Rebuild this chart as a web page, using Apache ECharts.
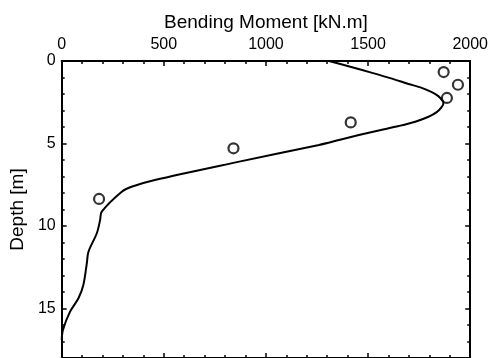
<!DOCTYPE html>
<html>
<head>
<meta charset="utf-8">
<script src="https://cdn.jsdelivr.net/npm/echarts@6/dist/echarts.min.js"></script>
<style>
html,body{margin:0;padding:0;background:#fff;}
#chart{width:491px;height:358px;}
</style>
</head>
<body>
<div id="chart"></div>
<script>
// Computed bending moment profile: moment (kN.m) vs depth (m)
const curveMoment = [1309, 1422, 1520, 1617, 1698, 1763, 1812, 1844, 1864, 1869, 1860, 1836, 1796, 1731, 1650, 1552, 1455, 1358, 1260, 846, 456, 342, 294, 196, 188, 172, 131, 123, 106, 82, 41, 6, 0];
const curveDepth  = [0, 0.38, 0.72, 1.07, 1.39, 1.63, 1.89, 2.13, 2.40, 2.54, 2.80, 3.10, 3.38, 3.68, 3.94, 4.21, 4.49, 4.79, 5.09, 6.16, 7.21, 7.62, 7.92, 9.13, 9.64, 10.44, 11.56, 12.26, 13.58, 14.38, 15.19, 16.3, 16.9];
// Measured bending moment points
const measMoment = [1870, 1940, 1886, 1415, 841, 183];
const measDepth  = [0.67, 1.44, 2.24, 3.72, 5.29, 8.36];
// Axis ranges / tick labels
const xTicks = [0, 500, 1000, 1500, 2000];
const yTicks = [0, 5, 10, 15];
const xMax = 2000;
const yMax = 18;

const FONT = 'Liberation Sans, Arial, sans-serif';
const curveData = curveMoment.map((m, i) => [m, curveDepth[i]]);
const measData = measMoment.map((m, i) => [m, measDepth[i]]);

const lineStyleAxis = { color: '#000', width: 2 };
function xAx(pos, main) {
  return {
    type: 'value', position: pos, min: xTicks[0], max: xMax, interval: xTicks[1] - xTicks[0],
    name: main ? 'Bending Moment [kN.m]' : '', nameLocation: 'middle', nameGap: 29,
    nameTextStyle: { fontSize: 19, color: '#000', fontFamily: FONT },
    axisLine: { show: true, onZero: false, lineStyle: lineStyleAxis },
    axisTick: { show: true, inside: true, length: 5, lineStyle: { color: '#000', width: 1.5 } },
    minorTick: { show: true, splitNumber: 5, length: 3, lineStyle: { color: '#000', width: 1.5 } },
    axisLabel: { show: main, fontSize: 16, color: '#000', fontFamily: FONT, margin: 8,
                 formatter: v => String(v) },
    splitLine: { show: false }, minorSplitLine: { show: false }
  };
}
function yAx(pos, major, labels) {
  return {
    type: 'value', position: pos, inverse: true, min: 0, max: yMax,
    interval: major ? (yTicks[1] - yTicks[0]) : 1,
    name: labels ? 'Depth [m]' : '', nameLocation: 'middle', nameGap: 28,
    nameTextStyle: { fontSize: 19, color: '#000', fontFamily: FONT },
    axisLine: { show: major, onZero: false, lineStyle: lineStyleAxis },
    axisTick: { show: true, inside: true, length: major ? 5 : 3, lineStyle: { color: '#000', width: 1.5 } },
    axisLabel: { show: labels, fontSize: 16, color: '#000', fontFamily: FONT, margin: 6, showMaxLabel: false,
                 formatter: v => String(v) },
    splitLine: { show: false }
  };
}

const chart = echarts.init(document.getElementById('chart'), null, { renderer: 'canvas' });
chart.setOption({
  animation: false,
  backgroundColor: '#fff',
  grid: { left: 61, top: 61, width: 411, height: 298, containLabel: false },
  xAxis: [xAx('top', true), xAx('bottom', false)],
  yAxis: [yAx('left', true, true), yAx('left', false, false), yAx('right', true, false), yAx('right', false, false)],
  series: [
    {
      type: 'line', xAxisIndex: 0, yAxisIndex: 0, data: curveData,
      smooth: 0.3, showSymbol: false, symbol: 'none',
      lineStyle: { color: '#000', width: 2 }
    },
    {
      type: 'scatter', xAxisIndex: 0, yAxisIndex: 0, data: measData,
      symbol: 'circle', symbolSize: 10,
      itemStyle: { color: '#fff', borderColor: '#000', borderWidth: 2.2 }
    }
  ]
});
</script>
</body>
</html>
